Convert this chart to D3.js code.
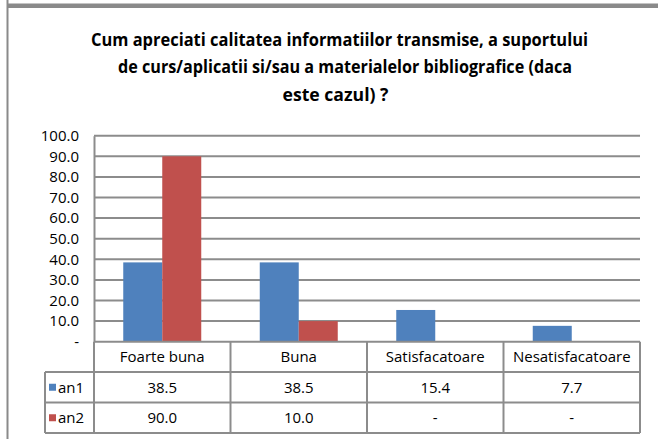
<!DOCTYPE html>
<html>
<head>
<meta charset="utf-8">
<script src="https://cdn.jsdelivr.net/npm/d3@7"></script>
<style>
  html, body { margin: 0; padding: 0; background: #fff; }
  svg { display: block; }
  text { font-family: "Open Sans", "Noto Sans", sans-serif; fill: #000; }
</style>
</head>
<body>
<svg id="chart" width="658" height="439"></svg>
<script>
// Survey results, percentage of answers per rating
const categories = ["Foarte buna", "Buna", "Satisfacatoare", "Nesatisfacatoare"];
const seriesNames = ["an1", "an2"];
const an1 = [38.5, 38.5, 15.4, 7.7];
const an2 = [90.0, 10.0, null, null];
const yTicks = [0, 10, 20, 30, 40, 50, 60, 70, 80, 90, 100];
const titleLines = [
  "Cum apreciati calitatea informatiilor transmise, a suportului",
  "de curs/aplicatii si/sau a materialelor bibliografice (daca",
  "este cazul) ?"
];

const colors = { an1: "#4F81BD", an2: "#C0504D" };
const gridColor = "#8C8C8C";

const svg = d3.select("#chart");

// Frame lines of the chart container
svg.append("rect").attr("x", 8).attr("y", 3.5).attr("width", 650).attr("height", 4.5).attr("fill", "#8A8A8A");
svg.append("line").attr("x1", 7.5).attr("x2", 7.5).attr("y1", 0).attr("y2", 439)
  .attr("stroke", "#8A8A8A").attr("stroke-width", 2);

// Title: a narrow bold face, each wrapped line squeezed to its line width
const titleLayout = [
  { cx: 339.5, w: 497 },
  { cx: 345, w: 454 },
  { cx: 335.5, w: 106 }
];
const title = svg.append("g").style("font-weight", "bold").style("font-size", "18px");
titleLines.forEach((t, i) => {
  title.append("text").attr("text-anchor", "middle")
    .attr("x", titleLayout[i].cx).attr("y", 45.5 + i * 27.5)
    .attr("textLength", titleLayout[i].w).attr("lengthAdjust", "spacingAndGlyphs")
    .text(t);
});

// Plot geometry
const plot = { left: 94, right: 640, top: 135.7, bottom: 341.7 };

const x0 = d3.scaleBand().domain(categories).range([plot.left, plot.right]).paddingInner(0).paddingOuter(0);
const x1 = d3.scaleBand().domain(seriesNames).range([0, x0.bandwidth()]).paddingInner(0).paddingOuter(0.75);
const y = d3.scaleLinear().domain([0, 100]).range([plot.bottom, plot.top]);

// Horizontal gridlines
svg.append("g").selectAll("line").data(yTicks.filter(d => d > 0)).join("line")
  .attr("x1", plot.left).attr("x2", plot.right)
  .attr("y1", d => y(d)).attr("y2", d => y(d))
  .attr("stroke", gridColor).attr("stroke-width", 2);

// Y axis with tick labels ("-" for zero)
const yAxis = d3.axisLeft(y).tickValues(yTicks).tickSize(0).tickPadding(15)
  .tickFormat(d => d === 0 ? "-" : d3.format(".1f")(d));
const gy = svg.append("g").attr("transform", `translate(${plot.left},0)`).call(yAxis);
gy.select(".domain").attr("stroke", gridColor).attr("stroke-width", 2);
gy.selectAll("text").style("font-size", "15px").attr("fill", "#000");

// Bars
const rows = categories.map((c, i) => ({ cat: c, an1: an1[i], an2: an2[i] }));
const groups = svg.append("g").selectAll("g").data(rows).join("g")
  .attr("transform", d => `translate(${x0(d.cat)},0)`);
groups.selectAll("rect").data(d => seriesNames.map(s => ({ s, v: d[s] })).filter(e => e.v != null)).join("rect")
  .attr("x", d => x1(d.s)).attr("width", x1.bandwidth())
  .attr("y", d => y(d.v)).attr("height", d => y(0) - y(d.v))
  .attr("fill", d => colors[d.s]);

// Data table below the plot
const tbl = { legendLeft: 45, rowTops: [341.7, 372, 402.5, 433] };
const tg = svg.append("g");
const lineStyle = sel => sel.attr("stroke", gridColor).attr("stroke-width", 2).attr("fill", "none");

// horizontal rules
tg.append("line").attr("x1", plot.left).attr("x2", plot.right).attr("y1", tbl.rowTops[0]).attr("y2", tbl.rowTops[0]).call(lineStyle);
[1, 2, 3].forEach(i => {
  tg.append("line").attr("x1", tbl.legendLeft).attr("x2", plot.right)
    .attr("y1", tbl.rowTops[i]).attr("y2", tbl.rowTops[i]).call(lineStyle);
});
// vertical rules
const colEdges = categories.map(c => x0(c)).concat([plot.right]);
colEdges.forEach(xe => {
  tg.append("line").attr("x1", xe).attr("x2", xe).attr("y1", tbl.rowTops[0]).attr("y2", tbl.rowTops[3]).call(lineStyle);
});
tg.append("line").attr("x1", tbl.legendLeft).attr("x2", tbl.legendLeft).attr("y1", tbl.rowTops[1]).attr("y2", tbl.rowTops[3]).call(lineStyle);

// category headers
tg.selectAll("text.cat").data(categories).join("text").attr("class", "cat")
  .attr("x", d => x0(d) + x0.bandwidth() / 2).attr("y", (tbl.rowTops[0] + tbl.rowTops[1]) / 2 + 5.5)
  .attr("text-anchor", "middle").style("font-size", "15px").text(d => d);

// value rows
const seriesValues = { an1, an2 };
seriesNames.forEach((s, si) => {
  const top = tbl.rowTops[si + 1], bot = tbl.rowTops[si + 2];
  const mid = (top + bot) / 2;
  tg.append("rect").attr("x", 49).attr("y", mid - 3.5).attr("width", 7).attr("height", 7).attr("fill", colors[s]);
  tg.append("text").attr("x", 58).attr("y", mid + 5.5).style("font-size", "15px").text(s);
  tg.selectAll(null).data(seriesValues[s]).join("text")
    .attr("x", (d, i) => x0(categories[i]) + x0.bandwidth() / 2).attr("y", mid + 5.5)
    .attr("text-anchor", "middle").style("font-size", "15px")
    .text(d => d == null ? "-" : d3.format(".1f")(d));
});
</script>
</body>
</html>
